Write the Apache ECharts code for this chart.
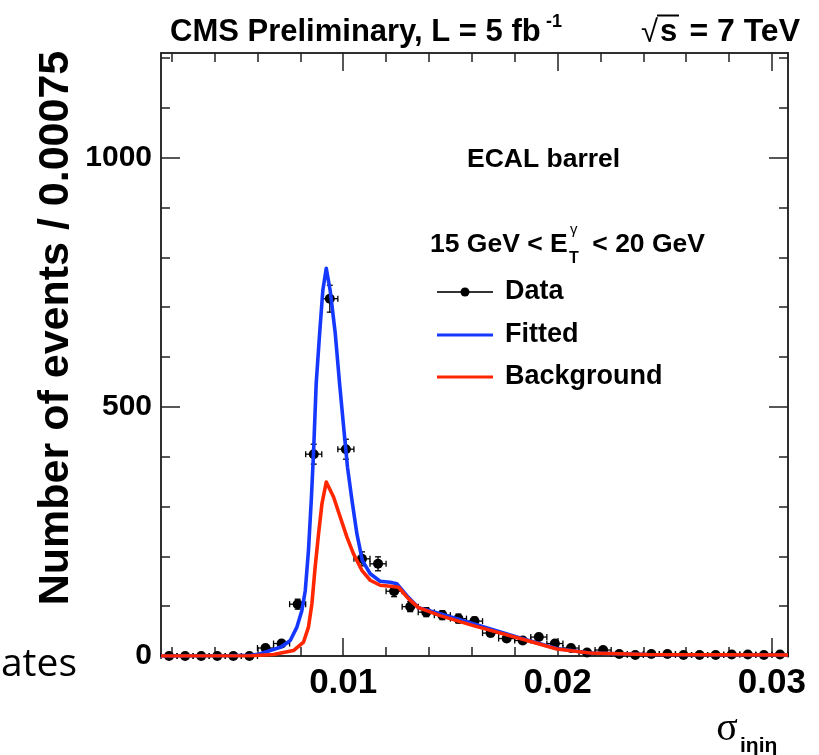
<!DOCTYPE html>
<html><head><meta charset="utf-8">
<script src="https://cdn.jsdelivr.net/npm/echarts@6/dist/echarts.min.js"></script>
<style>html,body{margin:0;padding:0;background:#fff}#c{width:819px;height:755px}</style>
</head><body><div id="c"></div>
<script>
// ---- data ----
const binCenters = [0.001875, 0.002625, 0.003375, 0.004125, 0.004875, 0.005625, 0.006375, 0.007125, 0.007875, 0.008625, 0.009375, 0.010125, 0.010875, 0.011625, 0.012375, 0.013125, 0.013875, 0.014625, 0.015375, 0.016125, 0.016875, 0.017625, 0.018375, 0.019125, 0.019875, 0.020625, 0.021375, 0.022125, 0.022875, 0.023625, 0.024375, 0.025125, 0.025875, 0.026625, 0.027375, 0.028125, 0.028875, 0.029625, 0.030375];
const dataCounts = [0, 0, 0, 0, 0, 0, 16, 25, 104, 405, 717, 415, 195, 185, 130, 99, 88, 82, 75, 70, 46, 35, 31, 38, 25, 16, 7, 12, 4, 2, 4, 4, 2, 2, 2, 3, 3, 2, 3];
const dataErrors = [0, 0, 0, 0, 0, 0, 4, 5, 10, 20, 27, 20, 14, 14, 11, 10, 9, 9, 9, 8, 7, 6, 6, 6, 5, 4, 3, 3, 2, 1, 2, 2, 1, 1, 1, 2, 2, 1, 2];
const binHalfWidth = 0.000375;

const fitX = [0.0015, 0.0047, 0.0057, 0.0061, 0.0071, 0.00753, 0.00784, 0.00807, 0.00823, 0.00838, 0.00851, 0.00862, 0.00874, 0.0089, 0.00905, 0.00921, 0.00939, 0.00963, 0.00983, 0.01005, 0.0102, 0.01041, 0.01064, 0.01089, 0.01126, 0.01172, 0.01219, 0.0125, 0.01297, 0.01351, 0.01452, 0.01607, 0.01825, 0.01996, 0.02151, 0.02416, 0.03075];
const fitY = [0, 0.5, 1.5, 4, 18, 31, 58, 91, 131, 212, 312, 412, 547, 647, 734, 778, 734, 647, 547, 446, 379, 312, 245, 192, 165, 150, 148, 145, 121, 97, 85, 65, 36, 15, 6, 3, 2];

const bkgX = [0.0015, 0.0057, 0.00675, 0.00768, 0.00815, 0.00838, 0.00854, 0.00869, 0.00885, 0.00901, 0.00921, 0.00955, 0.00986, 0.01017, 0.01048, 0.01087, 0.01126, 0.01172, 0.01219, 0.01258, 0.01304, 0.01351, 0.01452, 0.01607, 0.01825, 0.01996, 0.02151, 0.02416, 0.03075];
const bkgY = [0, 0.5, 3, 11, 28, 58, 105, 178, 245, 306, 349, 319, 279, 239, 205, 172, 152, 142, 140, 138, 115, 97, 81, 61, 35, 14, 6, 3, 2];

const xMajorTicks = [0.01, 0.02, 0.03];
const xMinorTicks = [0.002, 0.004, 0.006, 0.008, 0.012, 0.014, 0.016, 0.018, 0.022, 0.024, 0.026, 0.028];
const yMajorTicks = [0, 500, 1000];
const yMinorTicks = [100, 200, 300, 400, 600, 700, 800, 900, 1100, 1200];
const xRange = [0.0015, 0.03075];
const yRange = [0, 1210];

// ---- styling ----
const FRAME = '#222';
const BLUE = '#1538ff';
const RED = '#ff2600';
const SANS = 'Liberation Sans';

function xAxisDef(pos, ticks, len, withLabels) {
  return {
    type: 'value', position: pos, min: xRange[0], max: xRange[1],
    axisLine: {show: true, onZero: false, lineStyle: {color: FRAME, width: 1.5}},
    axisTick: {show: true, inside: true, length: len, customValues: ticks, lineStyle: {color: FRAME, width: 1.5}},
    axisLabel: withLabels ? {show: true, customValues: ticks, formatter: v => Number(v).toFixed(2),
      fontSize: 35, fontWeight: 'bold', fontFamily: SANS, color: '#000', margin: 10} : {show: false},
    splitLine: {show: false}, minorTick: {show: false}
  };
}
function yAxisDef(pos, ticks, len, withLabels) {
  return {
    type: 'value', position: pos, min: yRange[0], max: yRange[1],
    axisLine: {show: true, onZero: false, lineStyle: {color: FRAME, width: 1.5}},
    axisTick: {show: true, inside: true, length: len, customValues: ticks, lineStyle: {color: FRAME, width: 1.5}},
    axisLabel: withLabels ? {show: true, customValues: ticks, formatter: v => String(v),
      fontSize: 30, fontWeight: 'bold', fontFamily: SANS, color: '#000', margin: 9} : {show: false},
    splitLine: {show: false}, minorTick: {show: false}
  };
}

function txt(text, x, y, size, opts) {
  opts = opts || {};
  return {
    type: 'text', x: x, y: y, rotation: opts.rotation || 0, z: 100,
    style: {
      text: text, fill: '#000',
      fontSize: size, fontWeight: opts.weight || 'bold', fontFamily: opts.family || SANS,
      align: opts.align || 'left', verticalAlign: 'middle',
      textAlign: opts.align || 'left', textVerticalAlign: 'middle'
    }
  };
}
function seg(x1, y1, x2, y2, color, w) {
  return {type: 'line', z: 100, shape: {x1, y1, x2, y2}, style: {stroke: color, lineWidth: w}};
}

const chart = echarts.init(document.getElementById('c'), null, {renderer: 'canvas'});
chart.setOption({
  animation: false,
  backgroundColor: '#fff',
  grid: {left: 161, right: 31, top: 53, bottom: 99, containLabel: false, outerBoundsMode: 'none'},
  xAxis: [
    xAxisDef('bottom', xMinorTicks, 9, false),
    xAxisDef('bottom', xMajorTicks, 18, true),
    xAxisDef('top', xMinorTicks, 9, false),
    xAxisDef('top', xMajorTicks, 18, false)
  ],
  yAxis: [
    yAxisDef('left', yMinorTicks, 9, false),
    yAxisDef('left', yMajorTicks, 19, true),
    yAxisDef('right', yMinorTicks, 9, false),
    yAxisDef('right', yMajorTicks, 19, false)
  ],
  series: [
    {
      name: 'Data', type: 'custom', xAxisIndex: 0, yAxisIndex: 0, clip: false, z: 3,
      data: binCenters.map((x, i) => [x, dataCounts[i], dataErrors[i]]),
      encode: {x: 0, y: 1},
      renderItem: function (params, api) {
        const x = api.value(0), y = api.value(1), e = api.value(2);
        const c = api.coord([x, y]);
        const l = api.coord([x - binHalfWidth, y]);
        const r = api.coord([x + binHalfWidth, y]);
        const st = {stroke: '#000', lineWidth: 1.3};
        const cap = 3;
        const ch = [
          {type: 'line', shape: {x1: l[0], y1: l[1], x2: r[0], y2: r[1]}, style: st},
          {type: 'line', shape: {x1: l[0], y1: l[1] - cap, x2: l[0], y2: l[1] + cap}, style: st},
          {type: 'line', shape: {x1: r[0], y1: r[1] - cap, x2: r[0], y2: r[1] + cap}, style: st}
        ];
        if (e > 0) {
          const t = api.coord([x, y + e]);
          const b = api.coord([x, Math.max(y - e, 0)]);
          ch.push({type: 'line', shape: {x1: t[0], y1: t[1], x2: b[0], y2: b[1]}, style: st});
          ch.push({type: 'line', shape: {x1: t[0] - cap, y1: t[1], x2: t[0] + cap, y2: t[1]}, style: st});
          ch.push({type: 'line', shape: {x1: b[0] - cap, y1: b[1], x2: b[0] + cap, y2: b[1]}, style: st});
        }
        ch.push({type: 'circle', shape: {cx: c[0], cy: c[1], r: 5}, style: {fill: '#000'}});
        return {type: 'group', children: ch};
      }
    },
    {
      name: 'Fitted', type: 'line', xAxisIndex: 0, yAxisIndex: 0, z: 4,
      data: fitX.map((x, i) => [x, fitY[i]]),
      symbol: 'none', showSymbol: false, smooth: false,
      lineStyle: {color: BLUE, width: 3.6, join: 'round'}
    },
    {
      name: 'Background', type: 'line', xAxisIndex: 0, yAxisIndex: 0, z: 5,
      data: bkgX.map((x, i) => [x, bkgY[i]]),
      symbol: 'none', showSymbol: false, smooth: false,
      lineStyle: {color: RED, width: 3.6, join: 'round'}
    }
  ],
  graphic: [
    // header
    txt('CMS Preliminary, L = 5 fb', 170, 32, 31),
    txt('-1', 546, 22, 18),
    txt('\u221A', 641, 33, 31, {weight: 'normal'}),
    seg(657, 15.5, 679, 15.5, '#000', 2),
    txt('s', 660, 32, 31),
    txt('= 7 TeV', 800, 32, 32, {align: 'right'}),
    // annotations
    txt('ECAL barrel', 467, 160, 26.5),
    txt('15 GeV < E', 430, 245, 26.5),
    txt('T', 569, 259, 16),
    txt('\u03B3', 570, 230, 15, {weight: 'normal'}),
    txt('< 20 GeV', 705, 245, 26.5, {align: 'right'}),
    // legend
    seg(437, 292, 493, 292, '#333', 2.2),
    {type: 'circle', z: 100, shape: {cx: 465, cy: 292, r: 4.5}, style: {fill: '#000'}},
    txt('Data', 505, 292, 27),
    seg(437, 335, 493, 335, BLUE, 2.8),
    txt('Fitted', 505, 335, 27),
    seg(437, 377, 493, 377, RED, 2.8),
    txt('Background', 505, 377, 27),
    // axis titles
    txt('Number of events / 0.00075', 56, 328, 43, {align: 'center', rotation: Math.PI / 2}),
    txt('\u03C3', 727, 729, 40, {align: 'center', family: 'Liberation Serif', weight: 'normal'}),
    txt('i\u03B7i\u03B7', 740, 746, 21),
    // slide fragment at left edge
    txt('ates', 77, 665, 39, {align: 'right', family: 'Open Sans', weight: 'normal'})
  ]
});
</script>
</body></html>
